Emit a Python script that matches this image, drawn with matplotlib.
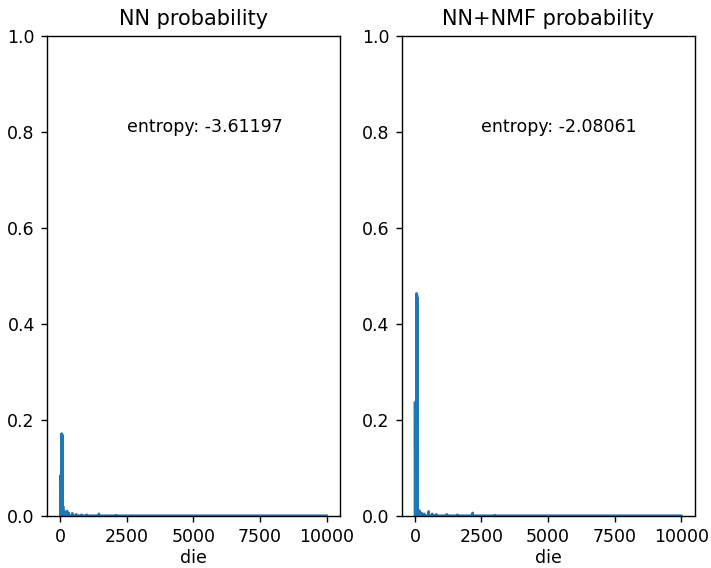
import numpy as np
import matplotlib
matplotlib.use("Agg")
import matplotlib.pyplot as plt

N_DICE = 10000

# sparse readings of the two probability curves: die index -> probability
nn_idx = [0, 15, 30, 45, 60, 75, 90, 105, 130, 180, 250, 320, 450, 600, 800, 1000, 1450, 2100]
nn_val = [0.083, 0.08, 0.07, 0.17, 0.171, 0.168, 0.16, 0.02, 0.01, 0.008, 0.01, 0.006,
          0.005, 0.003, 0.002, 0.002, 0.004, 0.001]

nmf_idx = [0, 15, 30, 45, 60, 75, 90, 105, 130, 180, 250, 350, 520, 650, 800, 1200, 1600, 2170, 3000]
nmf_val = [0.235, 0.236, 0.22, 0.2, 0.463, 0.462, 0.455, 0.3, 0.012, 0.01, 0.006, 0.004,
           0.009, 0.004, 0.003, 0.003, 0.002, 0.006, 0.001]

titles = ["NN probability", "NN+NMF probability"]
entropies = [-3.61197, -2.08061]


def build_curve(idx, val):
    p = np.zeros(N_DICE)
    p[idx] = val
    return p


curves = [build_curve(nn_idx, nn_val), build_curve(nmf_idx, nmf_val)]

fig, axes = plt.subplots(1, 2, figsize=(5.688, 4.544), dpi=125)
fig.subplots_adjust(left=0.066, right=0.977, bottom=0.092, top=0.937, wspace=0.21)

for ax, p, title, ent in zip(axes, curves, titles, entropies):
    ax.plot(np.arange(N_DICE), p, color="#1f77b4")
    ax.set_ylim(0, 1.0)
    ax.set_title(title)
    ax.set_xlabel("die", labelpad=2)
    ax.text(2500, 0.8, "entropy: %.5f" % ent)

fig.savefig("out.png", dpi=125)
